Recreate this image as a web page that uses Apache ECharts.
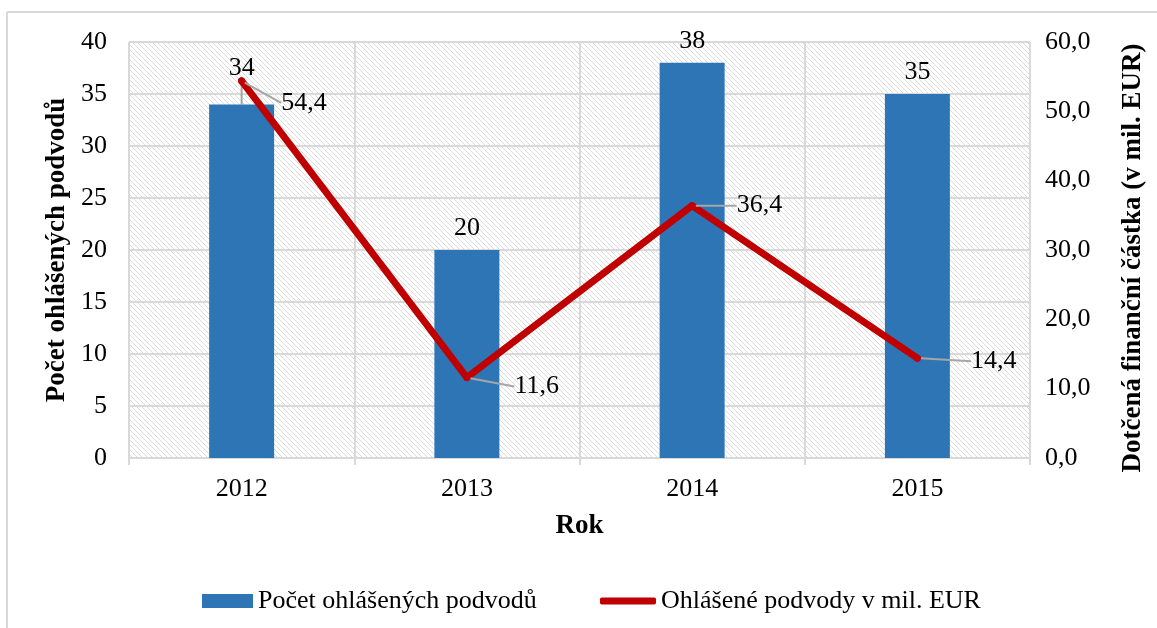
<!DOCTYPE html>
<html>
<head>
<meta charset="utf-8">
<script src="https://cdn.jsdelivr.net/npm/echarts@6/dist/echarts.min.js"></script>
<style>
  html, body { margin: 0; padding: 0; background: #fff; }
  #chart { width: 1157px; height: 628px; }
</style>
</head>
<body>
<div id="chart"></div>
<script>
var years = ["2012", "2013", "2014", "2015"];
var pocet = [34, 20, 38, 35];
var castka = [54.4, 11.6, 36.4, 14.4];
var leftTicks = [0, 40, 5];     // min, max, interval
var rightTicks = [0, 60, 10];

// posuny popisku (jako v Excelu)
var lineLabelShift = [[32, 22], [40, 9], [37, 0], [46, 3]];
var barLabelShift = [[0, -14], [0, 0], [0, 0], [0, 0]];

var font = "Liberation Serif";
var fs = 26;

// sraffovani pozadi
function hatch() {
  var n = 5;
  var c = document.createElement("canvas");
  c.width = n;
  c.height = n;
  var ctx = c.getContext("2d");
  ctx.fillStyle = "#ffffff";
  ctx.fillRect(0, 0, n, n);
  ctx.strokeStyle = "#dcdcdc";
  ctx.lineWidth = 1;
  ctx.beginPath();
  ctx.moveTo(-1, -1); ctx.lineTo(n + 1, n + 1);
  ctx.moveTo(-1, n - 1); ctx.lineTo(1, n + 1);
  ctx.moveTo(n - 1, -1); ctx.lineTo(n + 1, 1);
  ctx.stroke();
  return c;
}

var myChart = echarts.init(document.getElementById("chart"));
var option = {
  backgroundColor: "#ffffff",
  animation: false,
  textStyle: { fontFamily: font },
  graphic: [
    { type: "line", shape: { x1: 7, y1: 12, x2: 7, y2: 628 }, style: { stroke: "#d9d9d9", lineWidth: 2 } },
    { type: "line", shape: { x1: 7, y1: 12, x2: 1157, y2: 12 }, style: { stroke: "#d9d9d9", lineWidth: 2 } }
  ],
  grid: {
    left: 129,
    right: 127,
    top: 42,
    bottom: 170,
    show: true,
    backgroundColor: { image: hatch(), repeat: "repeat" },
    borderColor: "#d9d9d9",
    borderWidth: 1
  },
  legend: [
    {
      data: ["Počet ohlášených podvodů"],
      left: 197,
      top: 583,
      itemWidth: 51,
      itemHeight: 14,
      itemGap: 5,
      icon: "rect",
      textStyle: { fontFamily: font, fontSize: fs, color: "#000" }
    },
    {
      data: ["Ohlášené podvody v mil. EUR"],
      left: 595,
      top: 583,
      itemWidth: 56,
      itemHeight: 7,
      icon: "roundRect",
      textStyle: { fontFamily: font, fontSize: fs, color: "#000" }
    }
  ],
  xAxis: {
    type: "category",
    data: years,
    name: "Rok",
    nameLocation: "middle",
    nameGap: 55,
    nameTextStyle: { fontFamily: font, fontSize: 27, fontWeight: "bold", color: "#000" },
    axisLine: { lineStyle: { color: "#d9d9d9", width: 2 } },
    axisTick: { show: true, length: 7, lineStyle: { color: "#d9d9d9", width: 2 } },
    axisLabel: { fontFamily: font, fontSize: fs, color: "#000", margin: 18 },
    splitLine: { show: true, lineStyle: { color: "#d9d9d9", width: 2 } }
  },
  yAxis: [
    {
      type: "value",
      min: leftTicks[0],
      max: leftTicks[1],
      interval: leftTicks[2],
      name: "Počet ohlášených podvodů",
      nameLocation: "middle",
      nameGap: 54,
      nameTextStyle: { fontFamily: font, fontSize: 27, fontWeight: "bold", color: "#000" },
      axisLine: { show: false },
      axisTick: { show: false },
      axisLabel: { fontFamily: font, fontSize: fs, color: "#000", margin: 22 },
      splitLine: { lineStyle: { color: "#d9d9d9", width: 2 } }
    },
    {
      type: "value",
      min: rightTicks[0],
      max: rightTicks[1],
      interval: rightTicks[2],
      name: "Dotčená finanční částka (v mil. EUR)",
      nameLocation: "middle",
      nameGap: 90,
      nameRotate: 90,
      nameTextStyle: {
        fontFamily: font, fontSize: 27, fontWeight: "bold", color: "#000",
        padding: [0, 16, 0, 0]
      },
      axisLine: { show: false },
      axisTick: { show: false },
      axisLabel: {
        fontFamily: font, fontSize: fs, color: "#000", margin: 15,
        formatter: function (v) { return v.toFixed(1).replace(".", ","); }
      },
      splitLine: { show: false }
    }
  ],
  series: [
    {
      name: "Počet ohlášených podvodů",
      type: "bar",
      data: pocet.map(function (v, i) {
        return { value: v, labelLine: { show: barLabelShift[i][1] !== 0 } };
      }),
      barWidth: 65,
      itemStyle: { color: "#2E75B6" },
      label: {
        show: true,
        position: "top",
        distance: 9,
        fontFamily: font,
        fontSize: fs,
        color: "#000"
      },
      labelLayout: function (p) {
        var s = barLabelShift[p.dataIndex];
        return { dx: s[0], dy: s[1] };
      },
      labelLine: { show: false, lineStyle: { color: "#a6a6a6", width: 2 } }
    },
    {
      name: "Ohlášené podvody v mil. EUR",
      type: "line",
      yAxisIndex: 1,
      data: castka,
      symbol: "circle",
      symbolSize: 7,
      itemStyle: { color: "#C00000" },
      lineStyle: { color: "#C00000", width: 7, cap: "round", join: "round" },
      label: {
        show: true,
        position: "right",
        distance: 4,
        fontFamily: font,
        fontSize: fs,
        color: "#000",
        formatter: function (p) { return p.value.toFixed(1).replace(".", ","); }
      },
      labelLayout: function (p) {
        var s = lineLabelShift[p.dataIndex];
        return { dx: s[0], dy: s[1] };
      },
      labelLine: { show: true, lineStyle: { color: "#a6a6a6", width: 2 } }
    }
  ]
};
myChart.setOption(option);
</script>
</body>
</html>
